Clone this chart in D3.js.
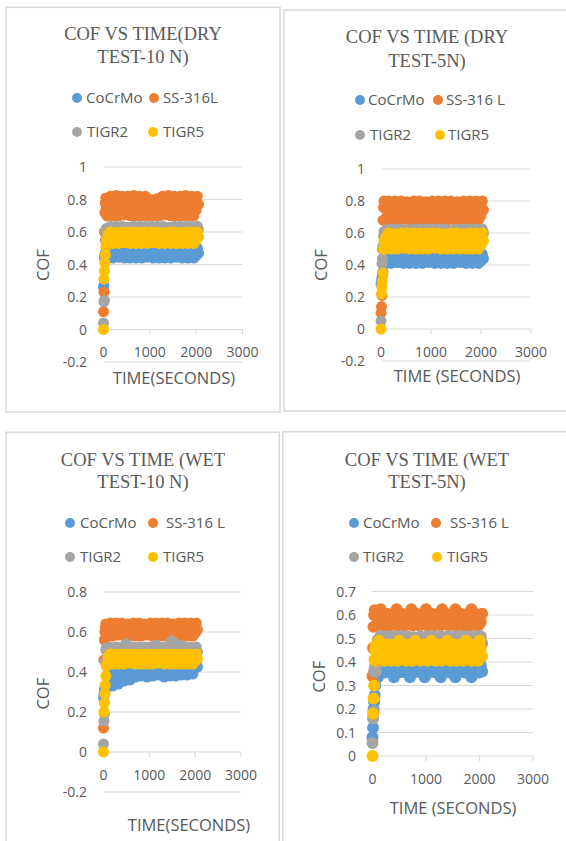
<!DOCTYPE html>
<html><head><meta charset="utf-8">
<script src="https://cdn.jsdelivr.net/npm/d3@7"></script>
<style>html,body{margin:0;padding:0;background:#fff;} svg{display:block}</style>
</head><body>
<svg id="c" width="566" height="841"></svg>
<script>
// ---------------- DATA ----------------
const times = [0,10,20,30,40,50,60,
 75,100,125,150,175,200,225,250,275,300,
 325,350,375,400,425,450,475,500,525,550,
 575,600,625,650,675,700,725,750,775,800,
 825,850,875,900,925,950,975,1000,1025,1050,
 1075,1100,1125,1150,1175,1200,1225,1250,1275,1300,
 1325,1350,1375,1400,1425,1450,1475,1500,1525,1550,
 1575,1600,1625,1650,1675,1700,1725,1750,1775,1800,
 1825,1850,1875,1900,1925,1950,1975,2000,2025,2050];

const seriesNames = ["CoCrMo","SS-316L","TIGR2","TIGR5"];
const titles = [["COF VS TIME(DRY","TEST-10 N)"],["COF VS TIME (DRY","TEST-5N)"],
                ["COF VS TIME (WET","TEST-10 N)"],["COF VS TIME (WET","TEST-5N)"]];
const legendLabels = [["CoCrMo","SS-316L","TIGR2","TIGR5"],["CoCrMo","SS-316 L","TIGR2","TIGR5"],
                      ["CoCrMo","SS-316 L","TIGR2","TIGR5"],["CoCrMo","SS-316 L","TIGR2","TIGR5"]];
const xTitles = ["TIME(SECONDS)","TIME (SECONDS)","TIME(SECONDS)","TIME (SECONDS)"];
const yTitle = "COF";
const xTicks = [0,1000,2000,3000];
const yTicksDry = [-0.2,0,0.2,0.4,0.6,0.8,1];
const yTicksWet10 = [-0.2,0,0.2,0.4,0.6,0.8];
const yTicksWet5 = [0,0.1,0.2,0.3,0.4,0.5,0.6,0.7];

// ===== Dry test 10 N =====
const dry10_CoCrMo = [0.26,0.27,0.44,0.46,0.47,0.45,0.48,
 0.44,0.485,0.455,0.50,0.47,0.44,0.485,0.455,0.50,0.47,
 0.445,0.485,0.455,0.50,0.47,0.44,0.49,0.455,0.50,0.47,
 0.44,0.485,0.46,0.50,0.47,0.44,0.485,0.455,0.50,0.475,
 0.44,0.485,0.455,0.50,0.47,0.445,0.485,0.455,0.50,0.47,
 0.44,0.49,0.455,0.50,0.47,0.44,0.485,0.455,0.50,0.47,
 0.44,0.485,0.455,0.50,0.475,0.44,0.485,0.46,0.50,0.47,
 0.445,0.485,0.455,0.50,0.47,0.44,0.485,0.455,0.50,0.47,
 0.44,0.485,0.455,0.50,0.47,0.44,0.49,0.455,0.50,0.47];
const dry10_SS316L = [0.11,0.23,0.60,0.72,0.78,0.81,0.76,
 0.70,0.80,0.735,0.82,0.77,0.70,0.80,0.735,0.825,0.77,
 0.70,0.805,0.735,0.82,0.77,0.705,0.80,0.735,0.82,0.77,
 0.70,0.80,0.74,0.825,0.77,0.70,0.80,0.735,0.82,0.77,
 0.70,0.80,0.735,0.82,0.77,0.70,0.79,0.735,0.80,0.77,
 0.70,0.79,0.735,0.805,0.77,0.70,0.80,0.735,0.82,0.77,
 0.705,0.80,0.735,0.825,0.77,0.70,0.80,0.735,0.82,0.77,
 0.70,0.805,0.735,0.82,0.77,0.70,0.80,0.74,0.825,0.77,
 0.70,0.80,0.735,0.82,0.77,0.70,0.805,0.735,0.82,0.77];
const dry10_TIGR2 = [0.04,0.17,0.18,0.45,0.55,0.60,0.62,
 0.58,0.625,0.60,0.635,0.615,0.58,0.625,0.60,0.635,0.615,
 0.585,0.625,0.60,0.635,0.615,0.58,0.625,0.60,0.63,0.615,
 0.58,0.625,0.605,0.635,0.615,0.58,0.625,0.60,0.635,0.615,
 0.58,0.62,0.60,0.635,0.615,0.58,0.625,0.60,0.635,0.615,
 0.58,0.625,0.60,0.635,0.61,0.585,0.625,0.60,0.635,0.615,
 0.58,0.625,0.60,0.63,0.615,0.58,0.625,0.60,0.635,0.615,
 0.58,0.625,0.60,0.635,0.615,0.58,0.62,0.605,0.635,0.615,
 0.58,0.625,0.60,0.635,0.615,0.58,0.625,0.60,0.635,0.615];
const dry10_TIGR5 = [0.00,0.31,0.36,0.41,0.46,0.51,0.55,
 0.53,0.585,0.55,0.60,0.57,0.53,0.585,0.55,0.595,0.57,
 0.53,0.59,0.55,0.60,0.57,0.535,0.585,0.55,0.60,0.57,
 0.53,0.585,0.55,0.60,0.565,0.53,0.585,0.55,0.60,0.57,
 0.53,0.585,0.555,0.60,0.57,0.53,0.58,0.55,0.60,0.57,
 0.535,0.585,0.55,0.60,0.57,0.53,0.585,0.55,0.595,0.57,
 0.53,0.585,0.55,0.60,0.57,0.53,0.59,0.55,0.60,0.57,
 0.53,0.585,0.55,0.595,0.57,0.53,0.585,0.555,0.60,0.57,
 0.53,0.585,0.55,0.60,0.57,0.53,0.585,0.55,0.60,0.57];

// ===== Dry test 5 N =====
const dry5_CoCrMo = [0.28,0.30,0.32,0.34,0.36,0.42,0.43,
 0.41,0.455,0.425,0.47,0.44,0.41,0.455,0.425,0.47,0.44,
 0.415,0.455,0.425,0.47,0.44,0.41,0.46,0.425,0.47,0.44,
 0.41,0.455,0.43,0.47,0.44,0.41,0.455,0.425,0.47,0.445,
 0.41,0.455,0.425,0.47,0.44,0.415,0.455,0.425,0.47,0.44,
 0.41,0.46,0.425,0.47,0.44,0.41,0.455,0.425,0.47,0.44,
 0.41,0.455,0.425,0.47,0.445,0.41,0.455,0.43,0.47,0.44,
 0.415,0.455,0.425,0.47,0.44,0.41,0.455,0.425,0.47,0.44,
 0.41,0.455,0.425,0.47,0.44,0.41,0.46,0.425,0.47,0.44];
const dry5_SS316L = [0.10,0.14,0.21,0.50,0.68,0.76,0.80,
 0.68,0.78,0.71,0.80,0.745,0.68,0.78,0.715,0.80,0.745,
 0.68,0.785,0.71,0.80,0.745,0.685,0.78,0.71,0.795,0.745,
 0.68,0.78,0.71,0.80,0.74,0.68,0.78,0.71,0.80,0.745,
 0.685,0.78,0.71,0.795,0.745,0.68,0.785,0.71,0.80,0.745,
 0.68,0.78,0.715,0.80,0.745,0.68,0.78,0.71,0.80,0.74,
 0.68,0.78,0.71,0.80,0.745,0.685,0.78,0.71,0.795,0.745,
 0.68,0.785,0.71,0.80,0.745,0.68,0.78,0.715,0.80,0.745,
 0.68,0.78,0.71,0.80,0.745,0.68,0.78,0.71,0.80,0.745];
const dry5_TIGR2 = [0.05,0.28,0.41,0.44,0.52,0.58,0.61,
 0.56,0.615,0.58,0.625,0.60,0.56,0.615,0.58,0.625,0.60,
 0.565,0.615,0.58,0.625,0.60,0.56,0.615,0.58,0.62,0.60,
 0.56,0.615,0.585,0.625,0.60,0.56,0.615,0.58,0.625,0.60,
 0.56,0.61,0.58,0.625,0.60,0.56,0.615,0.58,0.625,0.60,
 0.56,0.615,0.58,0.625,0.595,0.565,0.615,0.58,0.625,0.60,
 0.56,0.615,0.58,0.62,0.60,0.56,0.615,0.58,0.625,0.60,
 0.56,0.615,0.58,0.625,0.60,0.56,0.61,0.585,0.625,0.60,
 0.56,0.615,0.58,0.625,0.60,0.56,0.615,0.58,0.625,0.60];
const dry5_TIGR5 = [0.00,0.22,0.26,0.30,0.35,0.50,0.55,
 0.50,0.575,0.525,0.60,0.55,0.50,0.575,0.525,0.595,0.55,
 0.50,0.58,0.525,0.60,0.55,0.505,0.575,0.525,0.60,0.55,
 0.50,0.575,0.525,0.60,0.545,0.50,0.575,0.525,0.60,0.55,
 0.50,0.575,0.53,0.60,0.55,0.50,0.57,0.525,0.60,0.55,
 0.505,0.575,0.525,0.60,0.55,0.50,0.575,0.525,0.595,0.55,
 0.50,0.575,0.525,0.60,0.55,0.50,0.58,0.525,0.60,0.55,
 0.50,0.575,0.525,0.595,0.55,0.50,0.575,0.53,0.60,0.55,
 0.50,0.575,0.525,0.60,0.55,0.50,0.575,0.525,0.60,0.55];

// ===== Wet test 10 N =====
const wet10_CoCrMo = [0.27,0.29,0.31,0.32,0.33,0.33,0.32,
 0.33,0.396,0.352,0.418,0.374,0.33,0.396,0.352,0.418,0.374,
 0.34,0.40,0.355,0.42,0.375,0.355,0.415,0.375,0.43,0.395,
 0.36,0.415,0.375,0.43,0.395,0.375,0.425,0.395,0.44,0.41,
 0.38,0.425,0.395,0.44,0.41,0.375,0.425,0.395,0.44,0.41,
 0.38,0.425,0.395,0.44,0.41,0.385,0.425,0.395,0.44,0.41,
 0.375,0.425,0.395,0.44,0.41,0.38,0.425,0.395,0.44,0.41,
 0.38,0.425,0.395,0.44,0.41,0.385,0.425,0.395,0.44,0.41,
 0.385,0.425,0.395,0.44,0.41,0.39,0.43,0.42,0.44,0.425];
const wet10_SS316L = [0.12,0.46,0.56,0.60,0.62,0.64,0.60,
 0.58,0.63,0.595,0.645,0.61,0.58,0.63,0.595,0.645,0.61,
 0.585,0.63,0.595,0.645,0.61,0.58,0.63,0.60,0.64,0.61,
 0.58,0.63,0.595,0.645,0.61,0.58,0.635,0.595,0.645,0.61,
 0.58,0.63,0.595,0.64,0.61,0.585,0.63,0.595,0.645,0.61,
 0.58,0.63,0.60,0.645,0.61,0.58,0.63,0.595,0.645,0.61,
 0.58,0.635,0.595,0.645,0.61,0.58,0.63,0.595,0.64,0.61,
 0.585,0.63,0.595,0.645,0.61,0.58,0.63,0.595,0.645,0.615,
 0.58,0.63,0.595,0.645,0.61,0.58,0.63,0.595,0.645,0.61];
const wet10_TIGR2 = [0.04,0.155,0.19,0.30,0.45,0.51,0.52,
 0.47,0.515,0.485,0.525,0.50,0.47,0.515,0.485,0.525,0.50,
 0.47,0.515,0.485,0.525,0.50,0.47,0.53,0.54,0.525,0.50,
 0.47,0.515,0.485,0.525,0.50,0.47,0.515,0.485,0.525,0.50,
 0.47,0.515,0.485,0.525,0.50,0.47,0.515,0.485,0.525,0.50,
 0.47,0.515,0.485,0.535,0.50,0.47,0.515,0.485,0.525,0.50,
 0.47,0.515,0.485,0.525,0.50,0.47,0.55,0.555,0.545,0.50,
 0.47,0.515,0.485,0.525,0.50,0.535,0.515,0.485,0.525,0.50,
 0.47,0.515,0.485,0.525,0.50,0.47,0.515,0.485,0.525,0.50];
const wet10_TIGR5 = [0.00,0.20,0.245,0.29,0.335,0.38,0.43,
 0.44,0.478,0.452,0.49,0.465,0.44,0.478,0.452,0.49,0.465,
 0.44,0.478,0.455,0.49,0.465,0.44,0.48,0.452,0.49,0.465,
 0.445,0.478,0.452,0.49,0.465,0.44,0.478,0.452,0.49,0.465,
 0.44,0.478,0.452,0.49,0.46,0.44,0.478,0.455,0.49,0.465,
 0.44,0.48,0.452,0.49,0.465,0.445,0.478,0.452,0.49,0.465,
 0.44,0.478,0.452,0.49,0.465,0.44,0.478,0.452,0.49,0.465,
 0.44,0.478,0.455,0.49,0.465,0.44,0.48,0.452,0.49,0.465,
 0.44,0.478,0.452,0.49,0.465,0.44,0.478,0.452,0.49,0.465];

// ===== Wet test 5 N =====
const wet5_CoCrMo = [0.08,0.12,0.20,0.23,0.26,0.30,0.33,
 0.355,0.335,0.385,0.365,0.40,0.375,0.355,0.385,0.365,0.40,
 0.375,0.355,0.385,0.335,0.40,0.365,0.375,0.355,0.385,0.40,
 0.365,0.375,0.355,0.385,0.40,0.335,0.365,0.375,0.355,0.385,
 0.40,0.365,0.375,0.355,0.385,0.40,0.335,0.365,0.375,0.355,
 0.385,0.40,0.365,0.375,0.355,0.385,0.40,0.365,0.335,0.375,
 0.355,0.385,0.40,0.365,0.375,0.355,0.385,0.40,0.365,0.335,
 0.375,0.355,0.385,0.40,0.365,0.375,0.355,0.385,0.40,0.365,
 0.375,0.335,0.355,0.385,0.40,0.365,0.375,0.355,0.385,0.36];
const wet5_SS316L = [0.34,0.46,0.55,0.60,0.62,0.60,0.61,
 0.555,0.595,0.57,0.625,0.585,0.555,0.595,0.57,0.605,0.585,
 0.555,0.595,0.57,0.605,0.585,0.625,0.555,0.595,0.57,0.605,
 0.585,0.555,0.595,0.57,0.605,0.585,0.625,0.555,0.595,0.57,
 0.605,0.585,0.555,0.595,0.57,0.605,0.585,0.625,0.555,0.595,
 0.57,0.605,0.585,0.555,0.595,0.57,0.605,0.585,0.555,0.625,
 0.595,0.57,0.605,0.585,0.555,0.595,0.57,0.605,0.585,0.625,
 0.555,0.595,0.57,0.605,0.585,0.555,0.595,0.57,0.605,0.585,
 0.555,0.625,0.595,0.57,0.605,0.585,0.555,0.595,0.57,0.605];
const wet5_TIGR2 = [0.055,0.16,0.19,0.36,0.37,0.38,0.36,
 0.45,0.495,0.465,0.51,0.48,0.45,0.495,0.465,0.51,0.48,
 0.45,0.495,0.465,0.51,0.48,0.455,0.495,0.465,0.51,0.48,
 0.45,0.495,0.465,0.51,0.48,0.45,0.495,0.465,0.505,0.48,
 0.45,0.495,0.465,0.51,0.48,0.45,0.495,0.465,0.51,0.48,
 0.45,0.495,0.47,0.51,0.48,0.45,0.495,0.465,0.51,0.48,
 0.45,0.495,0.465,0.51,0.48,0.455,0.495,0.465,0.51,0.48,
 0.45,0.495,0.465,0.51,0.48,0.45,0.495,0.465,0.51,0.48,
 0.45,0.495,0.465,0.51,0.48,0.45,0.495,0.465,0.51,0.48];
const wet5_TIGR5 = [0.00,0.18,0.245,0.30,0.41,0.45,0.47,
 0.405,0.46,0.49,0.425,0.475,0.445,0.405,0.46,0.425,0.475,
 0.445,0.405,0.46,0.425,0.475,0.445,0.405,0.49,0.46,0.425,
 0.475,0.445,0.405,0.46,0.425,0.475,0.445,0.405,0.46,0.49,
 0.425,0.475,0.445,0.405,0.46,0.425,0.475,0.445,0.405,0.46,
 0.425,0.49,0.475,0.445,0.405,0.46,0.425,0.475,0.445,0.405,
 0.46,0.425,0.475,0.49,0.445,0.405,0.46,0.425,0.475,0.445,
 0.405,0.46,0.425,0.475,0.445,0.405,0.46,0.49,0.425,0.475,
 0.445,0.405,0.46,0.425,0.475,0.445,0.405,0.49,0.46,0.425];

// ---------------- DRAWING ----------------
const colors = ["#5B9BD5","#ED7D31","#A5A5A5","#FFC000"];
const txt = "#595959", grid = "#d9d9d9";
const sans = "'Open Sans','Liberation Sans',sans-serif";
const serif = "'Liberation Serif','Times New Roman',serif";

const panels = [
 {data:[dry10_CoCrMo,dry10_SS316L,dry10_TIGR2,dry10_TIGR5], yTicks:yTicksDry, ydom:[-0.2,1],
  box:[6,7.3,280,412], tcx:143, tby:[40,63.3],
  legRows:[98,132], legMX:[[77,154],[77,153]], legTX:[[86,163],[87,163]],
  xr:[103.5,242.5], yr:[362,167], ylabX:87, r:5.5,
  yTitle:[49,265], xTitle:[174,384]},
 {data:[dry5_CoCrMo,dry5_SS316L,dry5_TIGR2,dry5_TIGR5], yTicks:yTicksDry, ydom:[-0.2,1],
  box:[284,10,580,411], tcx:427, tby:[43.3,66.7],
  legRows:[100,135], legMX:[[360,438],[360,440]], legTX:[[368,446],[370,448]],
  xr:[381,531], yr:[361,169], ylabX:365, r:5.5,
  yTitle:[327,265], xTitle:[457,381.7]},
 {data:[wet10_CoCrMo,wet10_SS316L,wet10_TIGR2,wet10_TIGR5], yTicks:yTicksWet10, ydom:[-0.2,0.8],
  box:[6,432.3,279.3,860], tcx:143, tby:[465.7,488.3],
  legRows:[523,557], legMX:[[70,153],[70,153]], legTX:[[80,166],[80,163]],
  xr:[103.5,241], yr:[792,592], ylabX:87, r:5.5,
  yTitle:[49,693.7], xTitle:[189,830.7]},
 {data:[wet5_CoCrMo,wet5_SS316L,wet5_TIGR2,wet5_TIGR5], yTicks:yTicksWet5, ydom:[0,0.7],
  box:[282.7,431.7,580,860], tcx:427, tby:[465.7,488.3],
  legRows:[523,557], legMX:[[354,436],[354,437]], legTX:[[363,450],[363,447]],
  xr:[372.5,533], yr:[756,591.5], ylabX:356, r:6,
  yTitle:[324.7,676.7], xTitle:[453,814]}
];

const svg = d3.select("#c");
svg.append("rect").attr("width",566).attr("height",841).attr("fill","#fff");

panels.forEach((p,pi)=>{
  const g = svg.append("g");
  const [bx0,by0,bx1,by1] = p.box;
  g.append("rect").attr("x",bx0).attr("y",by0).attr("width",bx1-bx0).attr("height",by1-by0)
    .attr("fill","#fff").attr("stroke",grid).attr("stroke-width",1.5);

  titles[pi].forEach((t,i)=>{
    g.append("text").attr("x",p.tcx).attr("y",p.tby[i]).attr("text-anchor","middle")
      .attr("font-family",serif).attr("font-size",18.5).attr("fill",txt).text(t);
  });

  legendLabels[pi].forEach((lab,i)=>{
    const row = Math.floor(i/2), col = i%2;
    const cy = p.legRows[row];
    g.append("circle").attr("cx",p.legMX[row][col]).attr("cy",cy).attr("r",5).attr("fill",colors[i]);
    g.append("text").attr("x",p.legTX[row][col]).attr("y",cy+5.3)
      .attr("font-family",sans).attr("font-size",15).attr("fill",txt).text(lab);
  });

  const x = d3.scaleLinear().domain([0,3000]).range(p.xr);
  const y = d3.scaleLinear().domain(p.ydom).range(p.yr);

  g.append("g").selectAll("line").data(p.yTicks).join("line")
    .attr("x1",p.xr[0]).attr("x2",p.xr[1]).attr("y1",d=>y(d)).attr("y2",d=>y(d))
    .attr("stroke",grid).attr("stroke-width",1.2);
  g.append("g").selectAll("text").data(p.yTicks).join("text")
    .attr("x",p.ylabX).attr("y",d=>y(d)+5).attr("text-anchor","end")
    .attr("font-family",sans).attr("font-size",14).attr("fill",txt)
    .text(d=>d3.format("~g")(+d.toFixed(1)).replace("−","-"));
  g.append("g").selectAll("line").data(xTicks).join("line")
    .attr("x1",d=>x(d)).attr("x2",d=>x(d)).attr("y1",y(0)).attr("y2",y(0)+5)
    .attr("stroke",grid).attr("stroke-width",1.2);
  g.append("g").selectAll("text").data(xTicks).join("text")
    .attr("x",d=>x(d)).attr("y",y(0)+27.5).attr("text-anchor","middle")
    .attr("font-family",sans).attr("font-size",14).attr("fill",txt).text(d=>d);

  g.append("text").attr("transform",`translate(${p.yTitle[0]},${p.yTitle[1]}) rotate(-90)`)
    .attr("text-anchor","middle").attr("font-family",sans).attr("font-size",16.5).attr("fill",txt).text(yTitle);
  g.append("text").attr("x",p.xTitle[0]).attr("y",p.xTitle[1]).attr("text-anchor","middle")
    .attr("font-family",sans).attr("font-size",16.5).attr("fill",txt).text(xTitles[pi]);

  p.data.forEach((vals,si)=>{
    const pts = vals.map((v,i)=>[times[i],v]).filter(d=>d[0]!==undefined);
    g.append("g").selectAll("circle").data(pts).join("circle")
      .attr("cx",d=>x(d[0])).attr("cy",d=>y(d[1])).attr("r",p.r).attr("fill",colors[si]);
  });
});
</script>
</body></html>
